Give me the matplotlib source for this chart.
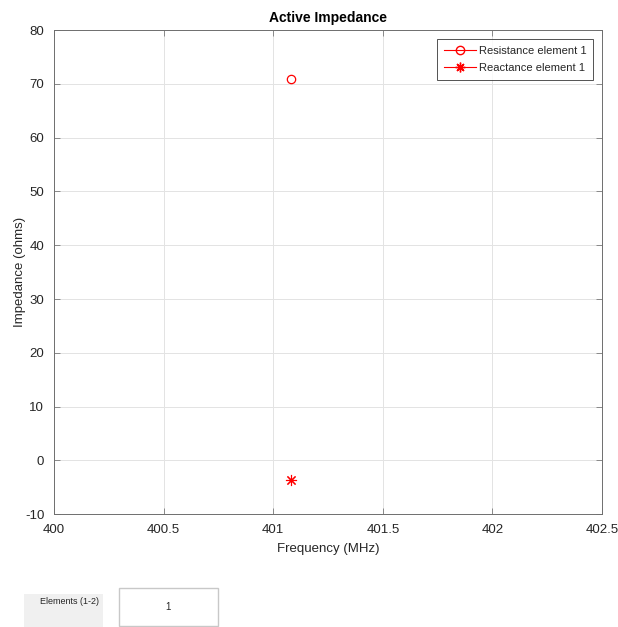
import matplotlib as mpl

mpl.use("Agg")

import matplotlib.pyplot as plt
from matplotlib.lines import Line2D
from matplotlib.patches import Rectangle

plt.rcParams["font.family"] = ["Liberation Sans", "DejaVu Sans"]
plt.rcParams["axes.unicode_minus"] = False

freq_mhz = [401.08]
resistance = [71.0]
reactance = [-3.7]

x_ticks = [400, 400.5, 401, 401.5, 402, 402.5]
x_tick_labels = ["400", "400.5", "401", "401.5", "402", "402.5"]
y_ticks = [-10, 0, 10, 20, 30, 40, 50, 60, 70, 80]

TEXT = "#262626"
ASTERISK = (8, 2, 0)

fig = plt.figure(figsize=(6.18, 6.27), dpi=100)
ax = fig.add_axes([0.0874, 0.180, 0.8868, 0.772])

ax.plot(freq_mhz, resistance, color="red", marker="o", markersize=6,
        markerfacecolor="none", markeredgewidth=0.9, linestyle="-",
        linewidth=0.8, label="Resistance element 1")
ax.plot(freq_mhz, reactance, color="red", marker=ASTERISK, markersize=8,
        markeredgewidth=0.8, linestyle="-", linewidth=0.8,
        label="Reactance element 1")

ax.set_xlim(400, 402.5)
ax.set_ylim(-10, 80)
ax.set_xticks(x_ticks, x_tick_labels)
ax.set_yticks(y_ticks)
ax.tick_params(direction="in", length=4, width=0.6, labelsize=9.5,
               colors="#7a7a7a", labelcolor=TEXT, top=True, right=True)
ax.tick_params(axis="x", pad=7)
ax.tick_params(axis="y", pad=7)
ax.grid(True, color="#e3e3e3", linewidth=0.7)
ax.set_axisbelow(True)
for spine in ax.spines.values():
    spine.set_color("#6e6e6e")
    spine.set_linewidth(0.7)

ax.set_title("Active Impedance", fontsize=10, fontweight="bold", pad=6,
             color="black")
ax.set_xlabel("Frequency (MHz)", fontsize=9.5, color=TEXT, labelpad=5)
ax.set_ylabel("Impedance (ohms)", fontsize=9.5, color=TEXT)
ax.yaxis.set_label_coords(-0.052, 0.5)

handles = [
    Line2D([], [], color="red", marker="o", markerfacecolor="none",
           markersize=6, linewidth=0.8),
    Line2D([], [], color="red", marker=ASTERISK, markersize=7, linewidth=0.8),
]
leg = ax.legend(handles, ["Resistance element 1", "Reactance element 1"],
                loc="upper right", fontsize=8, frameon=True, fancybox=False,
                handlelength=2.9, handletextpad=0.25, borderpad=0.6,
                labelspacing=0.65, borderaxespad=0.8)
leg.get_frame().set_edgecolor(TEXT)
leg.get_frame().set_linewidth(0.7)
for txt in leg.get_texts():
    txt.set_color(TEXT)

# element selector below the plot
fig.patches.append(Rectangle((24 / 618, 0), 79 / 618, 33 / 627,
                             transform=fig.transFigure, facecolor="#f0f0f0",
                             edgecolor="none"))
fig.text(69 / 618, 1 - 602 / 627, "Elements (1-2)", fontsize=6.5,
         ha="center", va="center", color=TEXT)
fig.patches.append(Rectangle((119 / 618, 1 / 627), 99 / 618, 38 / 627,
                             transform=fig.transFigure, facecolor="white",
                             edgecolor="#c8c8c8", linewidth=1.0))
fig.text(168 / 618, 1 - 607 / 627, "1", fontsize=7, ha="center",
         va="center", color=TEXT)

fig.savefig("out.png", dpi=100, facecolor="white")
plt.close(fig)
